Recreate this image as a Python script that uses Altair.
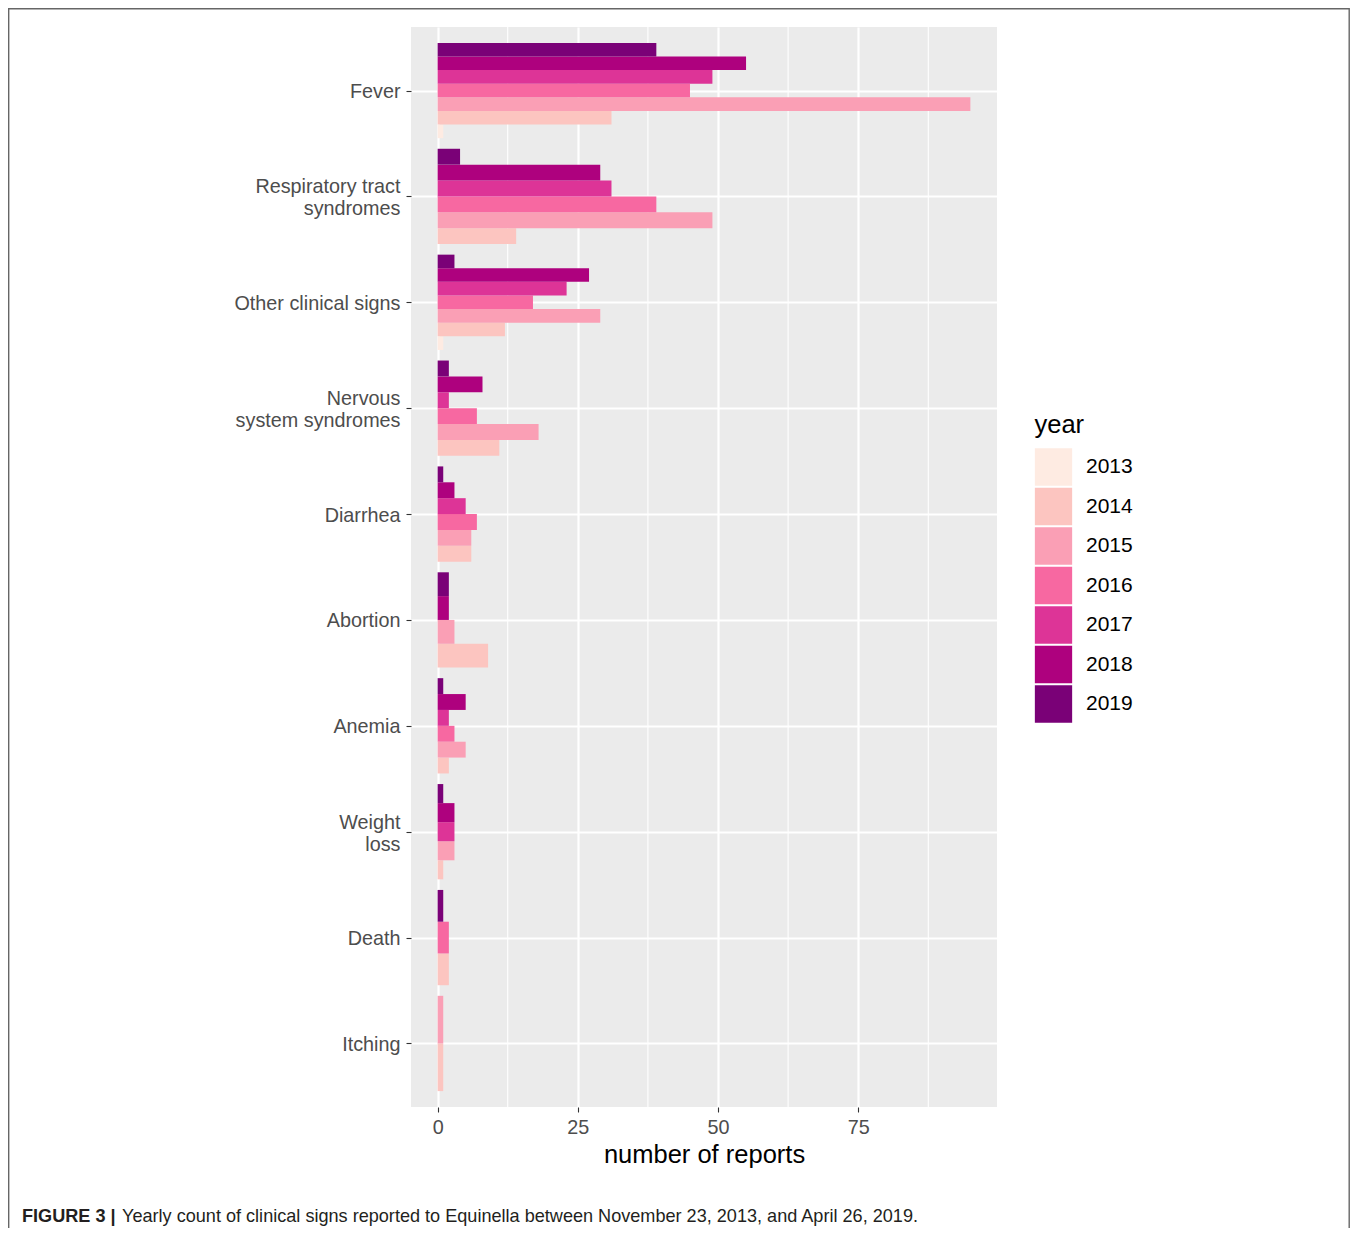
import json
import altair as alt
import pandas as pd

# ---- data ----
categories = ["Fever", "Respiratory tract syndromes", "Other clinical signs",
              "Nervous system syndromes", "Diarrhea", "Abortion", "Anemia",
              "Weight loss", "Death", "Itching"]
label_lines = [["Fever"], ["Respiratory tract", "syndromes"], ["Other clinical signs"],
               ["Nervous", "system syndromes"], ["Diarrhea"], ["Abortion"], ["Anemia"],
               ["Weight", "loss"], ["Death"], ["Itching"]]
years = [2013, 2014, 2015, 2016, 2017, 2018, 2019]
year_colors = ["#FEEBE2", "#FCC5C0", "#FA9FB5", "#F768A1", "#DD3497", "#AE017E", "#7A0177"]

# counts per year 2013..2019 (None = no bar)
fever = [1, 31, 95, 45, 49, 55, 39]
respiratory = [None, 14, 49, 39, 31, 29, 4]
other = [1, 12, 29, 17, 23, 27, 3]
nervous = [None, 11, 18, 7, 2, 8, 2]
diarrhea = [None, 6, 6, 7, 5, 3, 1]
abortion = [None, 9, 3, None, None, 2, 2]
anemia = [None, 2, 5, 3, 2, 5, 1]
weight_loss = [None, 1, 3, None, 3, 3, 1]
death = [None, 2, None, 2, None, None, 1]
itching = [None, 1, 1, None, None, None, None]

x_ticks = [0, 25, 50, 75]
x_minor = [12.5, 37.5, 62.5, 87.5]

series = [fever, respiratory, other, nervous, diarrhea, abortion, anemia,
          weight_loss, death, itching]
rows = []
for cat, vals in zip(categories, series):
    for yr, v in zip(years, vals):
        if v is not None:
            rows.append({"category": cat, "year": yr, "count": v})
df = pd.DataFrame(rows)

multi_idx = [i for i, l in enumerate(label_lines) if len(l) > 1]

FONT = "Liberation Sans"
xscale = alt.Scale(domain=[-4.75, 99.75], nice=False, zero=False)
yscale = alt.Scale(domain=[-0.6, 9.6], nice=False, zero=False, reverse=True)

x_axis = alt.Axis(values=x_ticks, grid=True, gridColor="white", gridWidth=2.2,
                  tickColor="#333333", tickSize=5, tickWidth=1.1,
                  labelFontSize=19.8, labelColor="#4D4D4D", labelPadding=5,
                  titleFontSize=25.5, titleColor="black", titleFontWeight="normal",
                  titlePadding=6, domain=False, labelFont=FONT, titleFont=FONT)

minor = alt.Chart(pd.DataFrame({"v": x_minor})).mark_rule(
    color="white", strokeWidth=1.1
).encode(x=alt.X("v:Q", scale=xscale, axis=x_axis, title="number of reports"))

bars = alt.Chart(df).transform_joinaggregate(
    n="count()", groupby=["category"]
).transform_window(
    r="row_number()", groupby=["category"], sort=[alt.SortField("year", order="ascending")]
).transform_calculate(
    ci=f"indexof({json.dumps(categories)}, datum.category)"
).transform_calculate(
    y_lo="datum.ci + 0.45 - (datum.r - 1) * 0.9 / datum.n",
).transform_calculate(
    y_hi="datum.y_lo - 0.9 / datum.n"
).mark_rect().encode(
    x=alt.X("count:Q", scale=xscale, title="number of reports", axis=x_axis),
    x2=alt.datum(0),
    y=alt.Y("y_lo:Q", scale=yscale, title=None,
            axis=alt.Axis(values=list(range(len(categories))), grid=True, gridColor="white",
                          gridWidth=2.2, tickColor="#333333", tickSize=5, tickWidth=1.1,
                          labelFontSize=19.8, labelColor="#4D4D4D", labelPadding=6,
                          labelLineHeight=22, labelOverlap=False, labelFlush=False,
                          labelBound=False, domain=False, labelFont=FONT,
                          labelOffset={"condition": {"test": f"indexof({json.dumps(multi_idx)}, datum.value) >= 0",
                                                     "value": -9.5}, "value": 1},
                          labelExpr=f"{json.dumps(label_lines)}[datum.value]")),
    y2="y_hi:Q",
    color=alt.Color("year:O", scale=alt.Scale(domain=years, range=year_colors),
                    legend=alt.Legend(title="year", orient="none", legendX=623.5, legendY=386,
                                      titleFontSize=25.5, titleColor="black",
                                      titleFontWeight="normal", titleFont=FONT,
                                      labelFont=FONT, labelFontSize=21, labelColor="black",
                                      symbolType="square", symbolSize=1391,
                                      symbolStrokeWidth=0, rowPadding=1.5,
                                      labelOffset=13.5, titlePadding=9.5, padding=0)),
)

one = alt.Data(values=[{}])
cap_bold = alt.Chart(one).mark_text(
    text="FIGURE 3 |", font=FONT, fontSize=18.1, fontWeight="bold", align="left",
    baseline="middle", color="#231F20"
).encode(x=alt.value(22 - 411), y=alt.value(1216.5 - 27))
cap_text = alt.Chart(one).mark_text(
    text="Yearly count of clinical signs reported to Equinella between November 23, 2013, and April 26, 2019.",
    font=FONT, fontSize=18.1, align="left", baseline="middle", color="#231F20"
).encode(x=alt.value(122 - 411), y=alt.value(1216.5 - 27))
border = alt.Chart(one).mark_rect(
    fillOpacity=0, stroke="#666666", strokeWidth=1.4
).encode(x=alt.value(-402.3), x2=alt.value(938.2), y=alt.value(-18.3), y2=alt.value(1400))

chart = alt.layer(minor, bars, cap_bold, cap_text, border).properties(
    width=586, height=1080,
    background="white",
    autosize=alt.AutoSizeParams(type="none"),
    padding={"left": 403, "top": 19, "right": 353, "bottom": 121},
).configure_view(fill="#EBEBEB", stroke=None)

chart.save("out.html", embed_options={"renderer": "svg", "actions": False})
